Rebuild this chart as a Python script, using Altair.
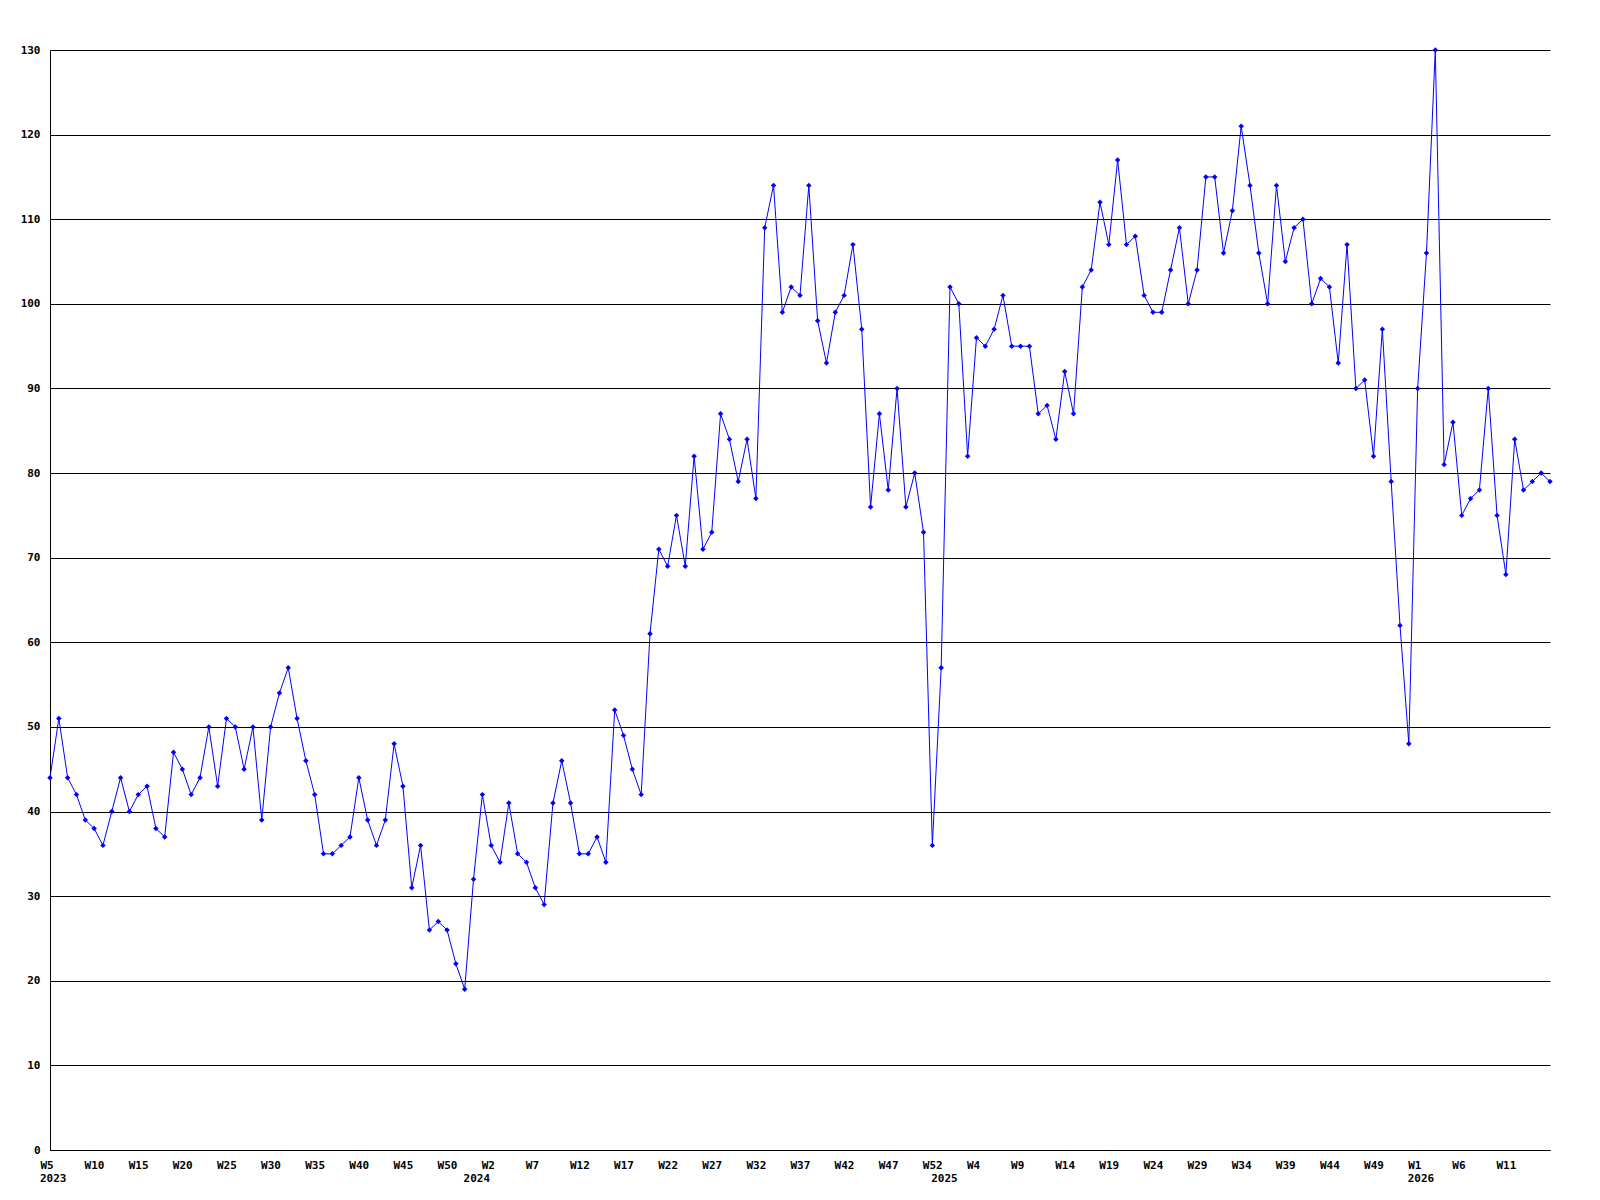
import altair as alt
import pandas as pd

# Weekly values, 2023 W5 onward
values = [
    44, 51, 44, 42, 39, 38, 36, 40, 44, 40, 42, 43, 38, 37, 47, 45, 42, 44, 50, 43,
    51, 50, 45, 50, 39, 50, 54, 57, 51, 46, 42, 35, 35,
    36, 37, 44, 39, 36, 39, 48, 43, 31, 36, 26, 27, 26, 22, 19, 32, 42, 36, 34, 41,
    35, 34, 31, 29, 41, 46, 41, 35, 35, 37,
    34,
    52, 49, 45, 42, 61, 71, 69, 75, 69, 82, 71, 73, 87, 84, 79, 84, 77,
    109, 114, 99, 102, 101, 114, 98, 93, 99, 101, 107, 97, 76, 87, 78, 90, 76, 80, 73, 36,
    57, 102, 100, 82, 96, 95, 97, 101, 95, 95, 95, 87, 88, 84,
    92, 87, 102, 104, 112, 107, 117, 107, 108, 101, 99, 99, 104, 109, 100, 104, 115, 115,
    106, 111, 121, 114, 106, 100, 114, 105, 109,
    110, 100, 103, 102, 93, 107, 90, 91, 82, 97, 79, 62, 48, 90, 106, 130, 81, 86, 75, 77,
    78, 90, 75, 68, 84, 78, 79, 80, 79,
]

week_tick_pos = [0, 5, 10, 15, 20, 25, 30, 35, 40, 45,
                 50, 55, 60, 65, 70, 75, 80, 85, 90, 95, 100,
                 105, 110, 115, 120, 125, 130, 135, 140, 145, 150,
                 155, 160, 165]
week_tick_labels = ["W5", "W10", "W15", "W20", "W25", "W30", "W35", "W40", "W45", "W50",
                    "W2", "W7", "W12", "W17", "W22", "W27", "W32", "W37", "W42", "W47", "W52",
                    "W4", "W9", "W14", "W19", "W24", "W29", "W34", "W39", "W44", "W49",
                    "W1", "W6", "W11"]
year_pos = [0, 48, 101, 155]
year_labels = ["2023", "2024", "2025", "2026"]
y_ticks = list(range(0, 131, 10))

FONT = "DejaVu Sans Mono"

df = pd.DataFrame({"i": list(range(len(values))), "v": values})
ydf = pd.DataFrame({"i": year_pos, "label": year_labels})

pos_js = "[" + ",".join(str(p) for p in week_tick_pos) + "]"
lab_js = "[" + ",".join("'" + l + "'" for l in week_tick_labels) + "]"
label_expr = f"{lab_js}[indexof({pos_js}, datum.value)]"

xscale = alt.Scale(domain=[0, len(values) - 1], nice=False, zero=False)
yscale = alt.Scale(domain=[0, 130], nice=False)

x_axis = alt.Axis(
    values=week_tick_pos, labelExpr=label_expr, grid=False, ticks=False,
    domainColor="black", domainWidth=1, labelAlign="left", labelOffset=-10,
    labelBaseline="top", labelPadding=9, labelFont=FONT, labelFontSize=11,
    labelFontWeight="bold", labelColor="black", labelOverlap=False,
    labelFlush=False, title=None,
)
y_axis = alt.Axis(
    values=y_ticks, grid=True, gridColor="black", gridWidth=1, gridOpacity=1,
    ticks=False, domainColor="black", domainWidth=1, labelPadding=10,
    labelFont=FONT, labelFontSize=11, labelFontWeight="bold", labelColor="black",
    labelFlush=False, labelOverlap=False, title=None,
)

base = alt.Chart(df).encode(
    x=alt.X("i:Q", scale=xscale, axis=x_axis),
    y=alt.Y("v:Q", scale=yscale, axis=y_axis),
)

line = base.mark_line(color="#0000FF", strokeWidth=1)
pts = base.mark_point(shape="diamond", filled=True, color="#0000FF", size=30, opacity=1)

years = alt.Chart(ydf).mark_text(
    align="left", baseline="top", dx=-10, font=FONT, fontSize=11,
    fontWeight="bold", color="black",
).encode(
    x=alt.X("i:Q", scale=xscale, axis=x_axis),
    y=alt.value(1123),
    text="label:N",
)

chart = alt.layer(line, pts, years).properties(
    width=1500, height=1100,
    autosize=alt.AutoSizeParams(type="none"),
    padding={"left": 42, "top": 42, "right": 10, "bottom": 40},
    background="white",
).configure_view(stroke=None)

chart.save("out.html", embed_options={"renderer": "svg", "actions": False})
